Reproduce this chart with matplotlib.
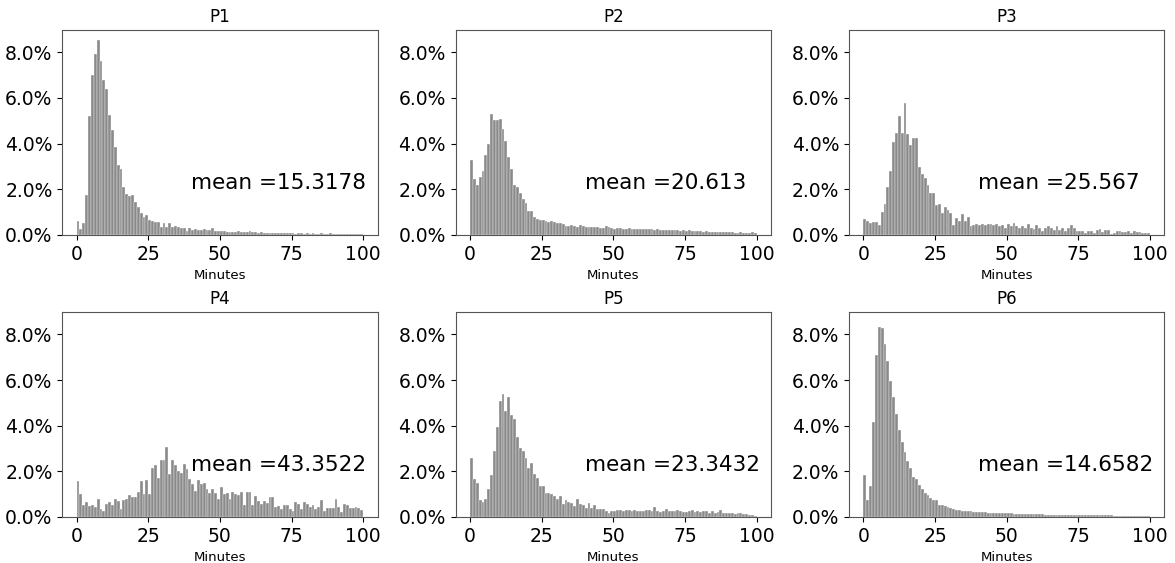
import numpy as np
import matplotlib
matplotlib.use("Agg")
import matplotlib.pyplot as plt
from matplotlib.ticker import PercentFormatter

# one bin per minute, 0..100
bin_edges = np.arange(0, 101, 1)

titles = ["P1", "P2", "P3", "P4", "P5", "P6"]
means = ["15.3178", "20.613", "25.567", "43.3522", "23.3432", "14.6582"]

# share of trips per minute bin, in percent
p1_pct = [
    0.60, 0.25, 0.50, 1.76, 5.20, 7.00, 7.95, 8.56, 7.60, 6.80,
    6.40, 5.25, 4.60, 3.85, 3.05, 2.87, 2.10, 1.80, 1.70, 1.75,
    1.45, 1.20, 0.95, 0.80, 0.85, 0.65, 0.60, 0.58, 0.55, 0.35,
    0.50, 0.35, 0.52, 0.33, 0.37, 0.33, 0.30, 0.28, 0.18, 0.32,
    0.20, 0.25, 0.22, 0.23, 0.24, 0.22, 0.22, 0.30, 0.18, 0.17,
    0.15, 0.18, 0.14, 0.13, 0.13, 0.14, 0.15, 0.13, 0.12, 0.14,
    0.18, 0.12, 0.11, 0.09, 0.11, 0.10, 0.08, 0.10, 0.09, 0.07,
    0.09, 0.08, 0.06, 0.07, 0.08, 0.06, 0.05, 0.08, 0.07, 0.05,
    0.06, 0.05, 0.06, 0.04, 0.05, 0.06, 0.04, 0.05, 0.07, 0.04,
    0.04, 0.03, 0.05, 0.04, 0.02, 0.04, 0.03, 0.04, 0.03, 0.03,
]
p2_pct = [
    3.30, 2.45, 2.20, 2.55, 2.80, 3.50, 4.00, 5.30, 5.05, 5.05,
    5.10, 4.63, 4.10, 3.40, 2.87, 2.20, 2.10, 1.82, 1.57, 1.40,
    1.06, 1.05, 0.80, 0.70, 0.66, 0.66, 0.62, 0.57, 0.60, 0.56,
    0.50, 0.50, 0.47, 0.40, 0.40, 0.42, 0.37, 0.35, 0.43, 0.37,
    0.35, 0.36, 0.33, 0.36, 0.33, 0.31, 0.30, 0.40, 0.36, 0.30,
    0.26, 0.29, 0.28, 0.27, 0.26, 0.30, 0.27, 0.25, 0.26, 0.24,
    0.25, 0.24, 0.24, 0.25, 0.21, 0.24, 0.22, 0.20, 0.22, 0.21,
    0.20, 0.19, 0.20, 0.18, 0.19, 0.17, 0.20, 0.17, 0.16, 0.15,
    0.16, 0.14, 0.15, 0.14, 0.13, 0.14, 0.13, 0.12, 0.14, 0.11,
    0.12, 0.11, 0.10, 0.10, 0.11, 0.09, 0.10, 0.09, 0.11, 0.07,
]
p3_pct = [
    0.68, 0.60, 0.50, 0.55, 0.56, 0.45, 1.00, 1.35, 2.10, 2.80,
    4.07, 4.47, 5.20, 4.45, 5.76, 4.40, 3.93, 4.25, 4.25, 2.97,
    2.68, 2.50, 2.20, 1.84, 1.84, 1.32, 1.35, 0.94, 1.24, 1.09,
    0.94, 0.44, 0.72, 0.60, 0.90, 0.62, 0.80, 0.40, 0.45, 0.47,
    0.44, 0.47, 0.43, 0.47, 0.47, 0.44, 0.47, 0.40, 0.44, 0.32,
    0.47, 0.40, 0.50, 0.40, 0.32, 0.37, 0.28, 0.47, 0.32, 0.25,
    0.43, 0.32, 0.18, 0.32, 0.40, 0.29, 0.22, 0.37, 0.21, 0.28,
    0.18, 0.32, 0.43, 0.29, 0.18, 0.15, 0.18, 0.10, 0.18, 0.18,
    0.10, 0.21, 0.25, 0.13, 0.21, 0.21, 0.02, 0.10, 0.18, 0.15,
    0.13, 0.13, 0.15, 0.06, 0.18, 0.12, 0.12, 0.09, 0.07, 0.10,
]
p4_pct = [
    1.55, 1.00, 0.50, 0.65, 0.48, 0.50, 0.43, 0.80, 0.35, 0.25,
    0.55, 0.65, 0.50, 0.77, 0.70, 0.35, 0.75, 0.80, 0.95, 0.85,
    0.85, 1.10, 1.55, 1.00, 1.60, 1.00, 2.15, 2.27, 1.70, 2.48,
    2.50, 3.05, 1.88, 2.50, 2.28, 2.03, 1.92, 2.30, 2.10, 1.65,
    1.43, 1.15, 1.60, 1.45, 1.48, 1.22, 1.06, 1.23, 1.06, 0.80,
    1.30, 1.00, 1.06, 0.80, 1.10, 1.00, 0.95, 1.10, 0.52, 1.10,
    1.10, 0.52, 0.90, 0.70, 0.55, 0.70, 0.62, 0.85, 0.85, 0.44,
    0.47, 0.35, 0.50, 0.50, 0.35, 0.25, 0.65, 0.55, 0.33, 0.65,
    0.55, 0.43, 0.50, 0.33, 0.43, 0.72, 0.25, 0.37, 0.40, 0.40,
    0.80, 0.43, 0.20, 0.58, 0.50, 0.37, 0.40, 0.43, 0.40, 0.30,
]
p5_pct = [
    2.57, 1.68, 1.50, 0.74, 0.66, 0.80, 1.24, 1.84, 2.87, 3.93,
    5.06, 5.40, 4.63, 5.25, 4.45, 4.27, 3.50, 3.00, 2.90, 2.60,
    2.16, 2.38, 1.90, 1.72, 1.35, 1.35, 1.06, 1.06, 1.00, 0.90,
    0.80, 0.90, 0.57, 0.74, 0.66, 0.62, 0.47, 0.77, 0.55, 0.50,
    0.40, 0.62, 0.40, 0.50, 0.35, 0.35, 0.33, 0.25, 0.18, 0.25,
    0.25, 0.30, 0.28, 0.26, 0.32, 0.28, 0.26, 0.32, 0.27, 0.25,
    0.27, 0.28, 0.30, 0.24, 0.44, 0.26, 0.23, 0.26, 0.36, 0.24,
    0.27, 0.24, 0.28, 0.26, 0.22, 0.20, 0.27, 0.29, 0.20, 0.27,
    0.22, 0.26, 0.27, 0.18, 0.26, 0.16, 0.23, 0.30, 0.16, 0.18,
    0.16, 0.18, 0.14, 0.17, 0.15, 0.13, 0.12, 0.10, 0.07, 0.05,
]
p6_pct = [
    1.82, 0.76, 1.35, 4.15, 7.10, 8.34, 8.30, 7.60, 6.82, 5.94,
    5.25, 4.50, 3.82, 3.26, 2.85, 2.46, 2.16, 1.75, 1.65, 1.40,
    1.20, 1.06, 0.96, 0.84, 0.76, 0.72, 0.54, 0.51, 0.47, 0.44,
    0.40, 0.35, 0.32, 0.30, 0.27, 0.26, 0.25, 0.24, 0.23, 0.22,
    0.21, 0.21, 0.20, 0.19, 0.19, 0.18, 0.18, 0.17, 0.17, 0.16,
    0.15, 0.15, 0.14, 0.14, 0.14, 0.13, 0.13, 0.12, 0.12, 0.12,
    0.11, 0.11, 0.11, 0.10, 0.10, 0.10, 0.10, 0.09, 0.09, 0.09,
    0.09, 0.08, 0.08, 0.08, 0.08, 0.08, 0.07, 0.07, 0.07, 0.07,
    0.07, 0.06, 0.06, 0.06, 0.06, 0.06, 0.06, 0.05, 0.05, 0.05,
    0.05, 0.05, 0.05, 0.04, 0.04, 0.04, 0.04, 0.04, 0.04, 0.04,
]

panels = [p1_pct, p2_pct, p3_pct, p4_pct, p5_pct, p6_pct]


def plot_panels():
    fig, axes = plt.subplots(2, 3, figsize=(11.75, 5.63), dpi=100, sharey=True)
    fig.subplots_adjust(left=0.053, right=0.991, top=0.947, bottom=0.082,
                        wspace=0.248, hspace=0.376)

    centers = (bin_edges[:-1] + bin_edges[1:]) / 2
    for ax, title, mean, pct in zip(axes.flat, titles, means, panels):
        weights = np.array(pct) / 100.0
        ax.hist(centers, bins=bin_edges, weights=weights,
                color="#8a8a8a", edgecolor="white", linewidth=0.25)
        ax.set_title(title, fontsize=12)
        ax.set_xlabel("Minutes", fontsize=9.5)
        ax.set_xticks([0, 25, 50, 75, 100])
        ax.yaxis.set_major_formatter(PercentFormatter(xmax=1, decimals=1))
        ax.tick_params(axis="both", labelsize=13.5)
        ax.yaxis.set_tick_params(labelleft=True)
        ax.text(40, 0.02, "mean =" + mean, fontsize=15.5, va="baseline")
        for s in ax.spines.values():
            s.set_color("#555555")

    axes[0, 0].set_yticks([0, 0.02, 0.04, 0.06, 0.08])
    fig.savefig("out.png", dpi=100)
    plt.close(fig)


if __name__ == "__main__":
    plot_panels()
